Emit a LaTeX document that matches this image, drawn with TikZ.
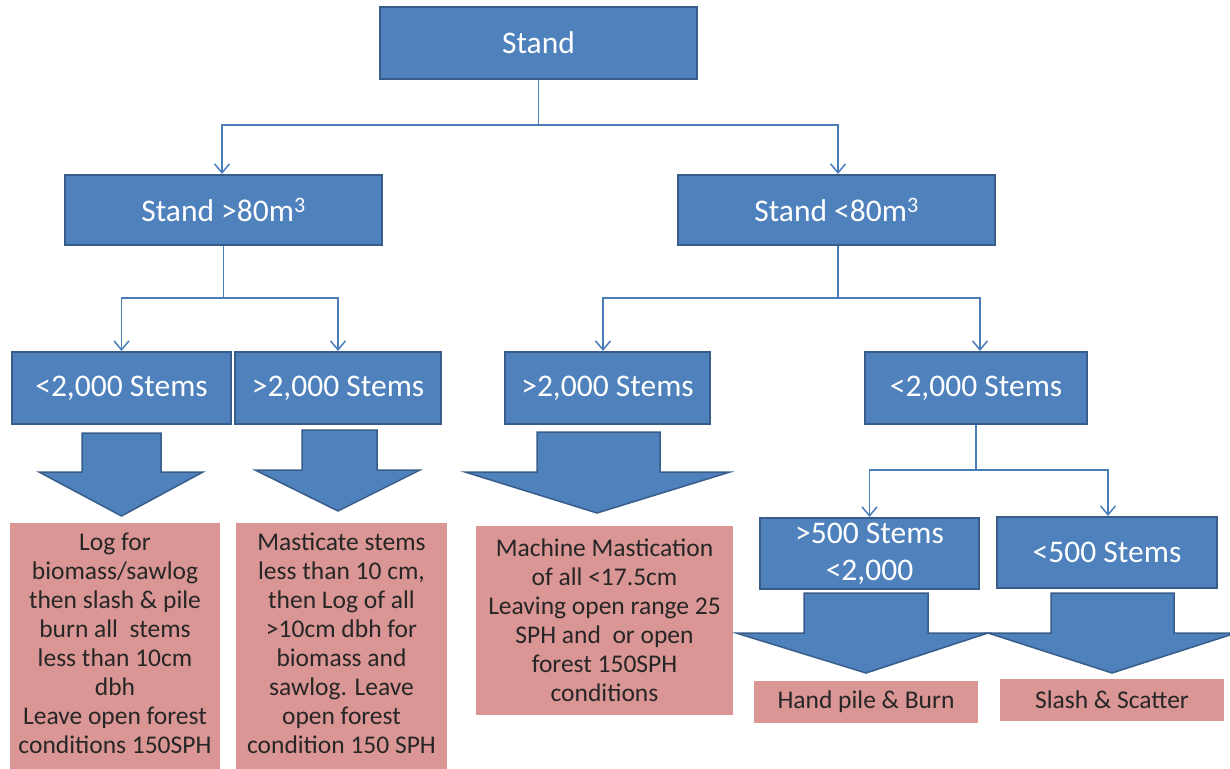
\documentclass[tikz,border=0pt]{standalone}
\usepackage{fontspec}
\setmainfont{Carlito}
\usetikzlibrary{arrows.meta}
\definecolor{bfill}{HTML}{4F81BD}
\definecolor{bdraw}{HTML}{385D8A}
\definecolor{conncol}{HTML}{4A7EBB}
\definecolor{pfill}{HTML}{DA9694}
\tikzset{
  bluebox/.style={draw=bdraw, fill=bfill, line width=2pt, text=white,
    font=\fontsize{31.5}{37}\selectfont, align=center, inner sep=0pt},
  pinkbox/.style={fill=pfill, text=black!85, font=\fontsize{25.5}{29}\selectfont,
    align=center, inner sep=0pt},
  pinktext/.style={text=black!85, font=\fontsize{25.5}{29}\selectfont, align=center, inner sep=0pt},
  conn/.style={draw=conncol, line width=1.5pt},
  arr/.style={conn, -{Straight Barb[length=9pt,width=15pt,line width=1.5pt]}},
  blockarrow/.style={fill=bfill, draw=bdraw, line width=1.5pt, line join=miter}
}
\begin{document}
\begin{tikzpicture}[x=1pt,y=-1pt]
\useasboundingbox (0,0) rectangle (1230,768);
\clip (0,0) rectangle (1230,768);
% blue decision boxes
\node[bluebox, minimum width=317, minimum height=72] (stand) at (538.5,43) {Stand};
\node[bluebox, minimum width=317, minimum height=70] (hi) at (223.5,210) {Stand >80m\textsuperscript{3}};
\node[bluebox, minimum width=317, minimum height=70] (lo) at (836.5,210) {Stand <80m\textsuperscript{3}};
\node[bluebox, minimum width=219, minimum height=72] (hiA) at (121.5,388) {<2,000 Stems};
\node[bluebox, minimum width=206, minimum height=72] (hiB) at (338,388) {>2,000 Stems};
\node[bluebox, minimum width=205, minimum height=72] (loA) at (607.5,388) {>2,000 Stems};
\node[bluebox, minimum width=222, minimum height=72] (loB) at (976,388) {<2,000 Stems};
\node[bluebox, minimum width=219, minimum height=71] (loB1) at (869.5,553.5) {>500 Stems\\<2,000};
\node[bluebox, minimum width=220, minimum height=71] (loB2) at (1107,552.5) {<500 Stems};
% connectors
\coordinate (j0) at (538.5,125);
\coordinate (j1) at (223.5,298);
\coordinate (j2) at (838,298);
\coordinate (j3) at (976,470);
\draw[conn] (stand.south) -- (j0);
\draw[arr] (j0) -| ([xshift=-1.5pt]hi.north);
\draw[arr] (j0) -| ([xshift=1.5pt]lo.north);
\draw[conn] (hi.south) -- (j1);
\draw[arr] (j1) -| (hiA.north);
\draw[arr] (j1) -| (hiB.north);
\draw[conn] ([xshift=1.5pt]lo.south) -- (j2);
\draw[arr] (j2) -| ([xshift=-4.5pt]loA.north);
\draw[arr] (j2) -| ([xshift=4pt]loB.north);
\draw[conn] (loB.south) -- (j3);
\draw[arr] (j3) -| (loB1.north);
\draw[arr] (j3) -| ([xshift=1pt]loB2.north);
% block arrows
\draw[blockarrow] (82,433) -- (82,472) -- (39,472) -- (121.5,516) -- (203,472) -- (161,472) -- (161,433) -- cycle;
\draw[blockarrow] (302,430) -- (302,470) -- (255,470) -- (338,511) -- (420,470) -- (377,470) -- (377,430) -- cycle;
\draw[blockarrow] (537,432) -- (537,472) -- (465,472) -- (597,513) -- (730,472) -- (660,472) -- (660,432) -- cycle;
\draw[blockarrow] (804,593) -- (804,633) -- (736,633) -- (866,673) -- (988,633) -- (928,633) -- (928,593) -- cycle;
\draw[blockarrow] (1051,593) -- (1051,633) -- (988,633) -- (1112,673) -- (1236,633) -- (1174,633) -- (1174,593) -- cycle;
% pink outcome boxes
\fill[pfill] (10,523) rectangle (220,772);
\node[pinktext, anchor=north] (p1) at (115,533) {Log for\\biomass/sawlog\\then slash \& pile\\burn all\ \ stems\\less than 10cm\\dbh\\Leave open forest\\conditions 150SPH};
\fill[pfill] (236,523) rectangle (447,772);
\node[pinktext, anchor=north] (p2) at (341.5,533) {Masticate stems\\less than 10 cm,\\then Log of all\\>10cm dbh for\\biomass and\\sawlog. Leave\\open forest\\condition 150 SPH};
\node[pinkbox, minimum width=257, minimum height=189] (p3) at (604.5,620.5) {Machine Mastication\\of all <17.5cm\\Leaving open range 25\\SPH and\ \ or open\\forest 150SPH\\conditions};
\node[pinkbox, minimum width=224, minimum height=42] (p4) at (866,702) {Hand pile \& Burn};
\node[pinkbox, minimum width=224, minimum height=42] (p5) at (1112,700) {Slash \& Scatter};
\end{tikzpicture}
\end{document}
